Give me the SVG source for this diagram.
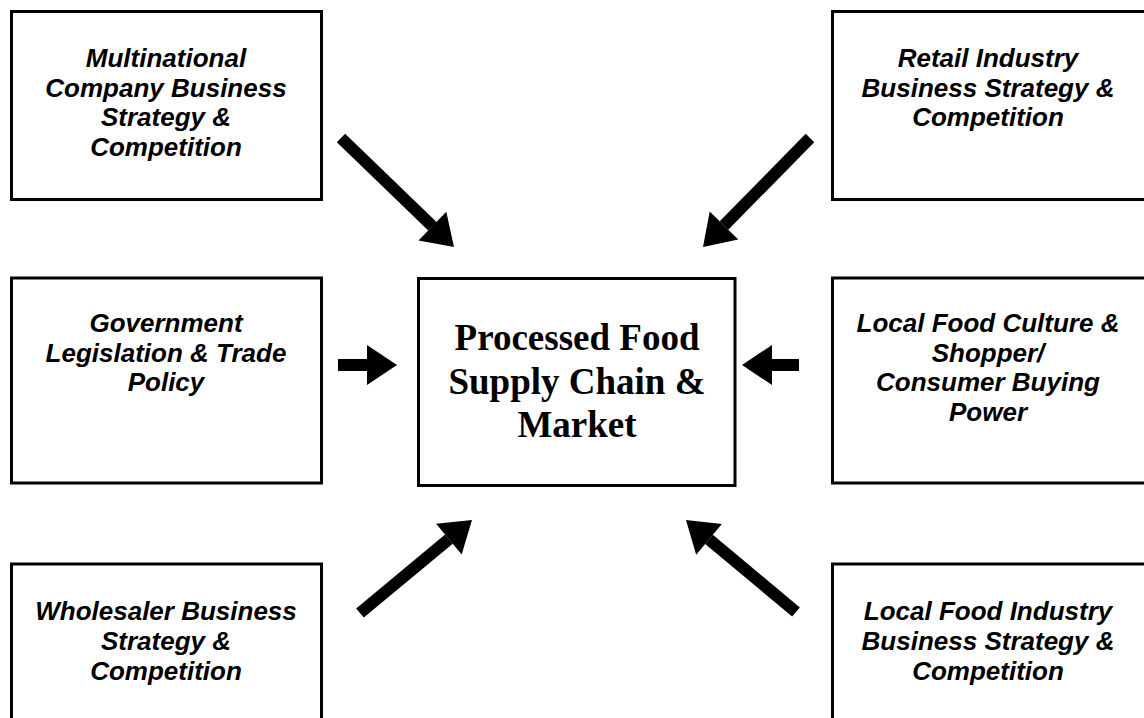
<svg xmlns="http://www.w3.org/2000/svg" width="1144" height="718" viewBox="0 0 1144 718">
  <style>
    .box { fill: #ffffff; stroke: #000000; stroke-width: 3; }
    .lbl { font-family: "Liberation Sans", Arial, sans-serif; font-size: 26px; font-weight: bold; font-style: italic; fill: #000000; text-anchor: middle; }
    .core { font-family: "Liberation Serif", "Times New Roman", serif; font-size: 37px; font-weight: bold; fill: #000000; text-anchor: middle; }
    .arrow { stroke: #000000; stroke-width: 12; stroke-linecap: butt; fill: none; marker-end: url(#head); }
  </style>
  <defs>
    <marker id="head" markerUnits="userSpaceOnUse" markerWidth="32" markerHeight="42" refX="0" refY="20" orient="auto" overflow="visible">
      <path d="M0,0 L30,20 L0,40 Z" fill="#000000"/>
    </marker>
  </defs>
  <rect width="1144" height="718" fill="#ffffff"/>

  <g id="multinational">
    <rect class="box" x="11.5" y="11.5" width="310" height="188"/>
    <text class="lbl" x="166" y="67">Multinational</text>
    <text class="lbl" x="166" y="97">Company Business</text>
    <text class="lbl" x="166" y="126">Strategy &amp;</text>
    <text class="lbl" x="166" y="156">Competition</text>
  </g>

  <g id="retail">
    <rect class="box" x="832.5" y="11.5" width="330" height="188"/>
    <text class="lbl" x="988" y="67">Retail Industry</text>
    <text class="lbl" x="988" y="97">Business Strategy &amp;</text>
    <text class="lbl" x="988" y="126">Competition</text>
  </g>

  <g id="government">
    <rect class="box" x="11.5" y="278" width="310" height="205"/>
    <text class="lbl" x="166" y="332">Government</text>
    <text class="lbl" x="166" y="362">Legislation &amp; Trade</text>
    <text class="lbl" x="166" y="391">Policy</text>
  </g>

  <g id="processed-food">
    <rect class="box" x="418.5" y="278.5" width="316.5" height="207"/>
    <text class="core" x="577" y="350">Processed Food</text>
    <text class="core" x="577" y="394">Supply Chain &amp;</text>
    <text class="core" x="577" y="437">Market</text>
  </g>

  <g id="local-culture">
    <rect class="box" x="832.5" y="278" width="330" height="205"/>
    <text class="lbl" x="988" y="332">Local Food Culture &amp;</text>
    <text class="lbl" x="988" y="362">Shopper/</text>
    <text class="lbl" x="988" y="391">Consumer Buying</text>
    <text class="lbl" x="988" y="421">Power</text>
  </g>

  <g id="wholesaler">
    <rect class="box" x="11.5" y="564" width="310" height="200"/>
    <text class="lbl" x="166" y="620">Wholesaler Business</text>
    <text class="lbl" x="166" y="650">Strategy &amp;</text>
    <text class="lbl" x="166" y="680">Competition</text>
  </g>

  <g id="local-industry">
    <rect class="box" x="832.5" y="564" width="330" height="200"/>
    <text class="lbl" x="988" y="620">Local Food Industry</text>
    <text class="lbl" x="988" y="650">Business Strategy &amp;</text>
    <text class="lbl" x="988" y="680">Competition</text>
  </g>

  <g id="connectors">
    <line class="arrow" x1="341" y1="138" x2="432.4" y2="226.2"/>
    <line class="arrow" x1="810" y1="138" x2="724" y2="225.5"/>
    <line class="arrow" x1="338" y1="365" x2="367" y2="365"/>
    <line class="arrow" x1="799" y1="365" x2="772" y2="365"/>
    <line class="arrow" x1="360" y1="613" x2="448.9" y2="539.2"/>
    <line class="arrow" x1="796" y1="612" x2="709" y2="539.3"/>
  </g>
</svg>
